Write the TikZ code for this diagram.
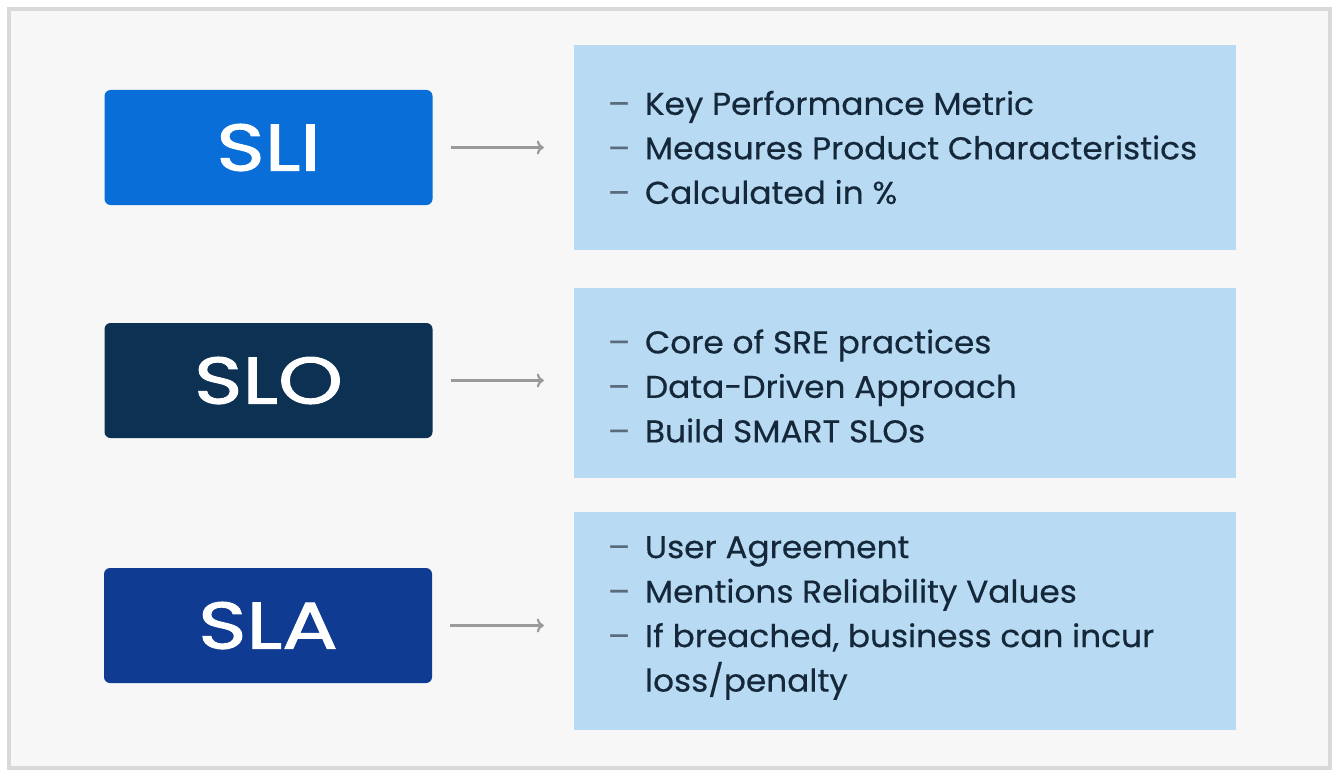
\documentclass[tikz,border=0pt]{standalone}
\usepackage{fontspec}
\setmainfont{Poppins}
\newfontfamily\notefont[FakeStretch=1.04,FakeBold=0.4]{Poppins}
\newfontfamily\termfont[FakeStretch=1.25,FakeBold=1.6]{Poppins}
\usetikzlibrary{positioning,arrows.meta}
\definecolor{panelbg}{HTML}{F7F7F7}
\definecolor{panelrim}{HTML}{D9D9D9}
\definecolor{sliblue}{HTML}{0A6ED8}
\definecolor{slonavy}{HTML}{0D3153}
\definecolor{slaroyal}{HTML}{0F3B92}
\definecolor{notefill}{HTML}{B8DAF3}
\definecolor{notetext}{HTML}{15283A}
\definecolor{dashgrey}{HTML}{5A6B7A}
\definecolor{arrowgrey}{HTML}{9A9A9A}
\newcommand{\itemline}[1]{\makebox[37pt][l]{\color{dashgrey}–}#1}
\newcommand{\contline}[1]{\hspace*{37pt}#1}
\begin{document}
\begin{tikzpicture}[x=1pt,y=-1pt,
  termbox/.style={draw=none, rounded corners=6pt, minimum width=328pt, minimum height=115pt,
    inner sep=0pt, text=white, font=\termfont\fontsize{66}{68}\selectfont},
  notebox/.style={fill=notefill, draw=none, minimum width=662pt, inner sep=0pt},
  notetext/.style={anchor=west, align=left, inner sep=0pt, text=notetext,
    font=\notefont\fontsize{31.5}{44.5}\selectfont},
  link/.style={draw=arrowgrey, line width=2.2pt, -{To[length=7pt,width=14pt]},
    shorten <=18pt, shorten >=30pt}]
  % page and panel
  \useasboundingbox (0,0) rectangle (1339,776);
  \fill[white] (0,0) rectangle (1339,776);
  \draw[panelrim, line width=4pt, fill=panelbg] (9,9) rectangle (1330,768);

  % term boxes on the left
  \node[termbox, fill=sliblue]  (sli) at (268.5,147.5) {SLI};
  \node[termbox, fill=slonavy]  (slo) at (268.5,380.5) {SLO};
  \node[termbox, fill=slaroyal] (sla) at (268,625.5) {SLA};

  % note boxes on the right
  \node[notebox, minimum height=205pt] (n1) at (905,147.5) {};
  \node[notebox, minimum height=190pt] (n2) at (905,383) {};
  \node[notebox, minimum height=218pt] (n3) at (905,621) {};

  \node[notetext] (t1) at ([xshift=34pt]n1.west) {%
    \itemline{Key Performance Metric}\\
    \itemline{Measures Product Characteristics}\\
    \itemline{Calculated in \%}};
  \node[notetext] (t2) at ([xshift=34pt,yshift=-3pt]n2.west) {%
    \itemline{Core of SRE practices}\\
    \itemline{Data-Driven Approach}\\
    \itemline{Build SMART SLOs}};
  \node[notetext] (t3) at ([xshift=34pt,yshift=3pt]n3.west) {%
    \itemline{User Agreement}\\
    \itemline{Mentions Reliability Values}\\
    \itemline{If breached, business can incur}\\
    \contline{loss/penalty}};

  % connectors
  \draw[link] (sli.east) -- (sli.east -| n1.west);
  \draw[link] (slo.east) -- (slo.east -| n2.west);
  \draw[link] (sla.east) -- (sla.east -| n3.west);
\end{tikzpicture}
\end{document}
